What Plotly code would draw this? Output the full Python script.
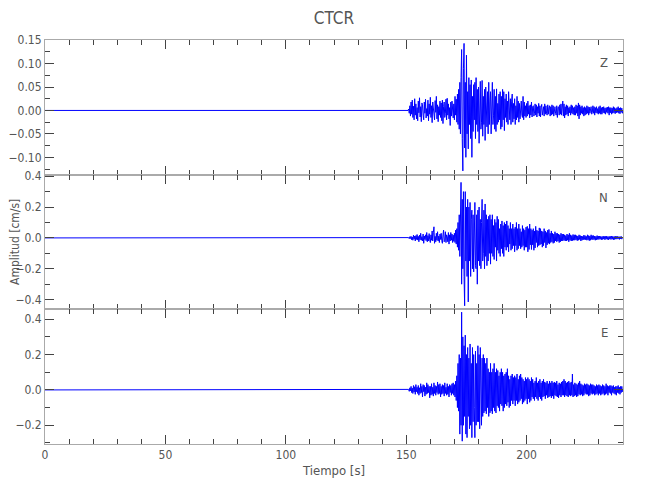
import plotly.graph_objects as go
from plotly.subplots import make_subplots

# ---------------- data ----------------
title = "CTCR"
x_label = "Tiempo [s]"
y_label = "Amplitud [cm/s]"
channels = ["Z", "N", "E"]

t_start = 150.0      # first sample of the digitised record [s]
dt = 0.25            # sample spacing of the digitised record [s]
unit = 0.001         # values below are in 1e-3 cm/s

z_vals = [
    0, 0, 0, 0, 3, -6, 10, -12, 18, -8, 22, -15, 9, -20, 25, -10, 14, -18, 6, -22,
    20, -5, 27, -14, 8, -24, 16, 12, -10, -20, 18, -6, 24, -16, 4, -12, 22, -22, 14, -8,
    28, -15, 10, -26, 18, 6, -12, -20, 21, -4, 30, -18, 12, -24, 8, -10, 20, -15, 16, -22,
    22, -28, 8, 18, -15, -6, 24, -20, 26, -10, 14, -18, 6, -32, 18, -12, 20, -8, -16, 14,
    -20, 30, -10, 24, -25, 35, -30, 45, -40, 60, -50, 70, 130, -60, -129, 90, 143, -80, 60, -100,
    118, -50, 40, -82, 70, -30, 55, -60, 65, -100, 30, -45, 55, -20, 60, -60, 70, -30, 45, -45,
    50, -70, 20, 62, -40, -25, 64, -55, 30, -30, 45, -64, 50, -10, -35, 40, -50, 60, -30, 20,
    40, -50, 25, 60, -30, -10, 45, -40, 30, -45, 46, -30, 15, -25, 35, -20, 40, -40, 30, -35,
    45, -20, 40, -43, 25, -15, 35, -25, 20, -30, 40, -10, -20, 25, -30, 20, 35, -25, 15, -18,
    25, -30, 10, -20, 30, -15, 20, -25, 15, -18, 12, 20, -10, -15, 30, -20, 18, -12, 10, -15,
    15, -12, 20, -8, 10, -16, 12, -10, 18, -14, 8, 10, -12, -6, 14, -10, 12, -14, 8, -6,
    15, -12, 10, -14, 6, 13, -10, -4, 8, -12, 14, -8, 10, -6, -10, 12, -8, 6, 10, -12,
    8, -10, 12, -8, 10, -12, 5, 8, -6, -10, 10, -15, 6, 8, -10, 12, -8, 14, -10, 6,
    20, -12, 14, -16, 8, -10, 12, -8, 10, -12, 6, -5, 8, -10, 12, -6, 10, -8, 6, -10,
    8, -10, 12, -6, 10, -12, 16, -18, 12, -10, 8, -6, 10, -8, 6, -12, 8, -10, 6, -8,
    10, -6, 8, -10, 7, -6, 5, 8, -8, -4, 10, -6, 8, -10, 6, -5, 8, -6, 4, -8,
    8, -6, 10, -8, 6, -8, 7, -5, 8, -6, 5, -8, 6, -4, 7, -6, 8, -10, 6, -5,
    6, -8, 5, -6, 8, -5, 6, -7, 4, -5, 6, -4, 8, -6, 5, -7, 6, -4, 5, -6,
    0,
]

n_vals = [
    0, 0, 0, 0, 2, -5, 8, -4, 10, -12, 6, -15, 18, -8, 12, -20, 15, -10, 22, -14,
    10, -25, 18, -12, 30, -15, 8, -20, 25, -35, 12, -10, 20, -18, 35, -25, 15, -20, 28, -12,
    -30, 20, -15, 45, -20, 35, 72, -35, 10, -25, 30, -15, 40, -20, 12, -30, 25, -10, 30, -18,
    -35, 20, 50, -25, -15, 40, -30, 20, 10, -25, 35, -40, 20, -20, 35, -15, 25, -30, 18, -22,
    30, -30, 50, -40, 60, -60, 100, -80, 150, -120, 200, 360, -300, 250, -200, 300, -250, -440, 300, -150,
    200, -250, 250, -415, 200, -150, 230, -250, 120, 180, -200, 150, -220, 100, 230, -180, -200, 150, -300, 180,
    -150, 200, -180, 120, -200, 100, 250, -150, -100, 180, -200, 220, -120, 150, -180, 120, -150, 140, -100, 150,
    -170, 120, -100, 150, -120, 80, -140, 120, -60, 100, -150, 140, -80, 120, -100, 60, -120, 90, -70, 110,
    -100, 80, -120, 100, -60, 90, -80, 110, -60, 80, -90, 60, -40, 100, -80, 60, -70, 90, -50, 60,
    -90, 70, -50, 100, -80, 60, -70, 90, -50, 60, -70, 40, -60, 80, -50, 60, -80, 50, -60, 70,
    -60, 75, -90, 60, -75, 90, -45, 60, -75, 50, -45, 60, -80, 45, -65, 75, -30, 50, -60, 45,
    -50, 65, -45, 60, -40, 45, -60, 40, -50, 60, -30, 45, -65, 35, -45, 50, -35, 55, -40, 30,
    -30, 45, -25, 30, -35, 25, -30, 40, -20, 30, -25, 30, -20, 25, -30, 20, -25, 30, -20, 25,
    -20, 25, -15, 20, -20, 15, -20, 25, -15, 20, -25, 30, -15, 20, -20, 15, -18, 22, -15, 20,
    -15, 20, -12, 15, -18, 12, -15, 20, -10, 15, -20, 12, -15, 10, -12, 18, -10, 15, -12, 10,
    -15, 20, -12, 15, -18, 12, -15, 20, -10, 15, -12, 15, -10, 12, -15, 10, -12, 15, -10, 12,
    -10, 12, -8, 10, -12, 8, -10, 12, -8, 10, -12, 10, -8, 12, -10, 8, -12, 10, -8, 10,
    -10, 12, -8, 10, -12, 8, -10, 12, -8, 10, -8, 10, -6, 8, -10, 8, -6, 10, -8, 6,
    0,
]

e_vals = [
    0, 0, 0, 0, 3, -8, 12, -5, 20, -15, 10, -20, 25, -12, 18, -25, 30, -10, 15, -20,
    25, -30, 12, -20, 35, -15, 20, -40, 30, -10, 25, -35, 15, -25, 40, -20, 30, -15, 20, -45,
    20, -30, 35, -25, 15, -35, 40, -20, 25, -30, 20, -15, 45, -25, 30, -20, 35, -40, 20, -25,
    30, -20, 25, -35, 40, -20, 15, -30, 35, -25, 20, -40, 30, -15, 25, -30, 35, -20, 40, -30,
    30, -40, 50, -60, 80, -100, 150, -120, 200, -250, 180, -200, 440, -290, 300, -200, 250, -150, 310, -250,
    200, -270, 240, -150, 180, -220, 260, -200, 150, -270, 240, -180, 200, -100, -270, 220, -200, 150, -180, 250,
    -180, 200, -220, 240, -150, -200, 180, -150, 200, -130, 180, -120, 150, -135, 180, -100, 120, -150, 100, -130,
    150, -120, 100, -135, 120, -100, 150, -120, 100, -130, 120, -90, 110, -100, 80, -120, 100, -80, 120, -90,
    100, -120, 80, -100, 90, -80, 100, -90, 120, -70, 80, -100, 60, -90, 80, -60, 90, -80, 70, -60,
    80, -90, 70, -60, 90, -80, 60, -70, 80, -60, 90, -50, 70, -80, 60, -70, 50, -60, 70, -50,
    60, -80, 70, -50, 60, -70, 50, -60, 70, -40, 60, -50, 40, -60, 50, -40, 70, -50, 40, -60,
    50, -40, 60, -50, 40, -60, 50, -40, 60, -35, 45, -50, 40, -30, 50, -45, 35, -40, 50, -35,
    40, -45, 50, -35, 40, -50, 45, -30, 40, -35, 50, -40, 30, -45, 40, -30, 35, -40, 45, -30,
    50, -30, 60, -40, 50, -30, 40, -35, 45, -40, 50, -30, 40, -35, 45, -30, 90, -40, 30, -35,
    40, -30, 35, -40, 30, -35, 40, -25, 50, -30, 35, -25, 30, -35, 25, -30, 35, -20, 30, -25,
    35, -25, 30, -35, 25, -30, 35, -20, 30, -25, 30, -20, 25, -30, 20, -25, 30, -20, 25, -30,
    30, -20, 25, -30, 20, -25, 30, -20, 25, -30, 20, -25, 35, -20, 25, -30, 20, -15, 25, -20,
    25, -30, 20, -15, 25, -20, 15, -25, 20, -30, 20, -15, 25, -20, 15, -25, 20, -15, 20, -10,
    0,
]

# quiet part of the record before the first arrival
pre_event_t = [0.0]
pre_event_v = [0.0]

x_ticks = [0, 50, 100, 150, 200]

# ---------------- figure ----------------
FONT = "Liberation Sans Narrow, DejaVu Sans Condensed, Arial Narrow, sans-serif"
TXT = "#555555"
FRAME = "#aaaaaa"
TICK = "#444444"

fig = make_subplots(rows=3, cols=1, shared_xaxes=True, vertical_spacing=0)

series = [z_vals, n_vals, e_vals]
for i, vals in enumerate(series):
    t = pre_event_t + [t_start + dt * k for k in range(len(vals))]
    v = pre_event_v + [unit * a for a in vals]
    fig.add_trace(go.Scatter(x=t, y=v, mode="lines",
                             line=dict(color="#0000ff", width=1),
                             showlegend=False, hoverinfo="skip"),
                  row=i + 1, col=1)

y_specs = [
    dict(range=[-0.137, 0.1503], dtick=0.05, tickformat=".2f", minor=0.025),
    dict(range=[-0.463, 0.41], dtick=0.2, tickformat=".1f", minor=0.1),
    dict(range=[-0.306, 0.456], dtick=0.2, tickformat=".1f", minor=0.1),
]

for i, spec in enumerate(y_specs):
    fig.update_yaxes(range=spec["range"], dtick=spec["dtick"], tick0=0,
                     tickformat=spec["tickformat"], automargin=False,
                     showline=True, linecolor=FRAME, linewidth=1, mirror="ticks",
                     ticks="inside", ticklen=9, tickwidth=1, tickcolor=TICK,
                     minor=dict(ticks="inside", ticklen=5, dtick=spec["minor"],
                                tick0=0, tickcolor=TICK, showgrid=False),
                     showgrid=False, zeroline=False,
                     tickfont=dict(family=FONT, size=12, color=TXT),
                     row=i + 1, col=1)

for i in range(3):
    fig.update_xaxes(range=[0, 240], tickvals=x_ticks, automargin=False,
                     showline=True, linecolor=FRAME, linewidth=1, mirror="ticks",
                     ticks="inside", ticklen=9, tickwidth=1, tickcolor=TICK,
                     minor=dict(ticks="inside", ticklen=5, dtick=10, tick0=0,
                                tickcolor=TICK, showgrid=False),
                     showgrid=False, zeroline=False,
                     tickfont=dict(family=FONT, size=12, color=TXT),
                     row=i + 1, col=1)

fig.update_xaxes(title=dict(text=x_label, font=dict(family=FONT, size=13, color=TXT),
                            standoff=4), row=3, col=1)

annotations = [
    dict(text=y_label, xref="paper", yref="paper", x=-0.052, y=0.5,
         xanchor="center", yanchor="middle", textangle=-90, showarrow=False,
         font=dict(family=FONT, size=12, color=TXT)),
]
label_y = [0.945, 0.611, 0.277]
for name, yy in zip(channels, label_y):
    annotations.append(dict(text=name, xref="paper", yref="paper", x=0.978, y=yy,
                            xanchor="right", yanchor="middle", showarrow=False,
                            font=dict(family=FONT, size=13, color=TXT)))

# the page body adds an 8 px margin around the figure, so the figure is
# sized to 634x484 and placed so the plot area lands where the reference has it
fig.update_layout(
    width=634, height=484,
    margin=dict(l=37, r=19, t=32, b=48, autoexpand=False),
    paper_bgcolor="white", plot_bgcolor="white",
    title=dict(text=title, xref="paper", x=0.5, xanchor="center",
               yref="container", y=0.979, yanchor="middle", automargin=False,
               font=dict(family=FONT, size=17, color=TXT)),
    annotations=annotations,
)

fig.write_html("out.html")
